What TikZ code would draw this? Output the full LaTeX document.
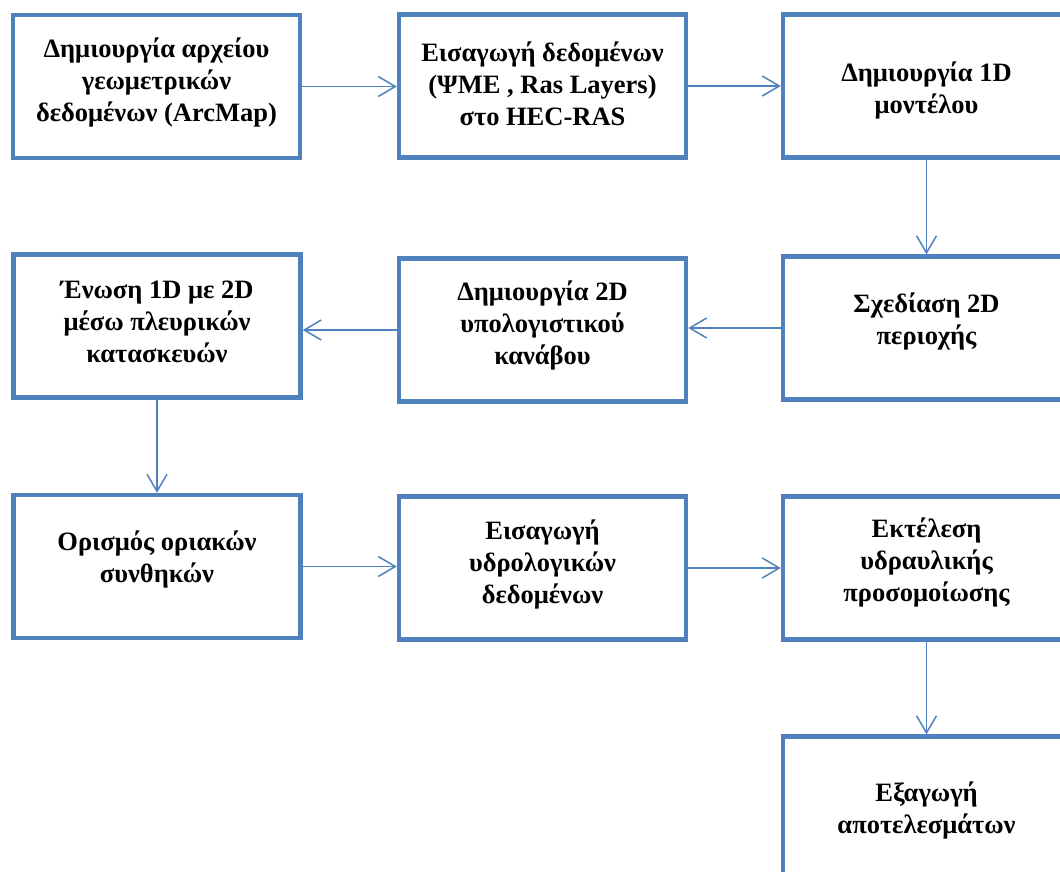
\documentclass[tikz,border=0pt]{standalone}
\usepackage{fontspec}
\setmainfont{Liberation Serif}
\usetikzlibrary{arrows.meta}
\definecolor{boxblue}{HTML}{4F81BD}

\begin{document}
\begin{tikzpicture}[x=1pt, y=-1pt,
    box/.style={draw=boxblue, line width=4.5pt, minimum width=287pt,
        minimum height=143pt, inner sep=0pt},
    boxtext/.style={align=center, inner sep=0pt,
        font=\bfseries\fontsize{26.5}{32}\selectfont},
    flow/.style={->, >={Straight Barb[length=17pt, width=20pt]},
        boxblue, line width=1.5pt}]
  \useasboundingbox (0, 0) rectangle (1060, 872);
  \clip (0, 0) rectangle (1060, 872);

  % first row
  \node[box, label={[boxtext, yshift=4pt]center:{Δημιουργία αρχείου\\γεωμετρικών\\δεδομένων (ArcMap)}}] (arxeio) at (156.5, 86.5) {};
  \node[box, label={[boxtext, yshift=2pt]center:{Εισαγωγή δεδομένων\\(ΨΜΕ , Ras Layers)\\στο HEC-RAS}}] (eisagogi) at (542.5, 86) {};
  \node[box, label={[boxtext, yshift=-4pt]center:{Δημιουργία 1D\\μοντέλου}}] (model1d) at (926.5, 86) {};

  % second row
  \node[box, label={[boxtext, yshift=4pt]center:{Ένωση 1D με 2D\\μέσω πλευρικών\\κατασκευών}}] (enosi) at (157, 326) {};
  \node[box, label={[boxtext, yshift=5pt]center:{Δημιουργία 2D\\υπολογιστικού\\κανάβου}}] (kanavos) at (542.5, 330) {};
  \node[box, label={[boxtext, yshift=6.5pt]center:{Σχεδίαση 2D\\περιοχής}}] (perioxi) at (926.5, 328) {};

  % third row
  \node[box, label={[boxtext, yshift=7pt]center:{Ορισμός οριακών\\συνθηκών}}] (oriakes) at (157, 566.5) {};
  \node[box, label={[boxtext, yshift=4pt]center:{Εισαγωγή\\υδρολογικών\\δεδομένων}}] (ydrol) at (542.5, 568) {};
  \node[box, label={[boxtext, yshift=6pt]center:{Εκτέλεση\\υδραυλικής\\προσομοίωσης}}] (ektelesi) at (926.5, 568) {};

  % last box
  \node[box, label={[boxtext, yshift=-2pt]center:{Εξαγωγή\\αποτελεσμάτων}}] (exagogi) at (926.5, 808) {};

  \draw[flow] (arxeio.east) -- (arxeio.east -| eisagogi.west);
  \draw[flow] (eisagogi.east) -- (eisagogi.east -| model1d.west);
  \draw[flow] (model1d) -- (perioxi);
  \draw[flow] (perioxi.west) -- (perioxi.west -| kanavos.east);
  \draw[flow] (kanavos.west) -- (kanavos.west -| enosi.east);
  \draw[flow] (enosi) -- (oriakes);
  \draw[flow] (oriakes.east) -- (oriakes.east -| ydrol.west);
  \draw[flow] (ydrol.east) -- (ydrol.east -| ektelesi.west);
  \draw[flow] (ektelesi) -- (exagogi);
\end{tikzpicture}
\end{document}
